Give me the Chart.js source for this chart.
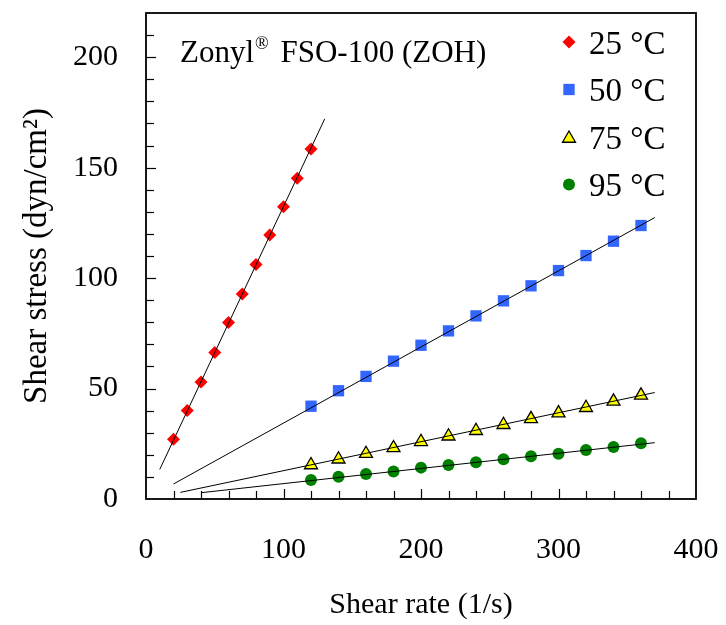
<!DOCTYPE html>
<html>
<head>
<meta charset="utf-8">
<script src="https://cdn.jsdelivr.net/npm/chart.js@4.4.1/dist/chart.umd.min.js"></script>
<style>
  body { margin: 0; background: #fff; }
  #wrap { width: 726px; height: 625px; }
</style>
</head>
<body>
<div id="wrap"><canvas id="chart" width="726" height="625"></canvas></div>
<script>
// 25 °C was measured at low shear rates only
const rate25 = [20, 30, 40, 50, 60, 70, 80, 90, 100, 110, 120];
const stress25 = [27.0, 40.1, 53.0, 66.3, 79.9, 92.8, 106.1, 119.5, 132.3, 145.2, 158.4];

// the other temperatures share the same shear rates
const rateHot = [120, 140, 160, 180, 200, 220, 240, 260, 280, 300, 320, 340, 360];
const stress50 = [42.0, 49.0, 55.5, 62.4, 69.6, 76.1, 82.9, 89.7, 96.5, 103.4, 110.2, 116.7, 123.8];
const stress75 = [15.4, 18.0, 20.5, 23.1, 25.9, 28.4, 30.9, 33.6, 36.3, 38.9, 41.3, 44.2, 46.9];
const stress95 = [8.6, 10.1, 11.3, 12.5, 14.2, 15.4, 16.6, 18.0, 19.3, 20.5, 22.2, 23.5, 25.2];

// linear fits, start and end points
const fitX25 = [10, 130];
const fitY25 = [13.4, 172.1];
const fitX50 = [20, 370];
const fitY50 = [6.8, 127.4];
const fitX75 = [25, 370];
const fitY75 = [3.0, 48.2];
const fitX95 = [40, 370];
const fitY95 = [2.85, 25.5];

const seriesLabels = ['25 °C', '50 °C', '75 °C', '95 °C'];
const xTickLabels = [0, 100, 200, 300, 400];
const yTickLabels = [0, 50, 100, 150, 200];

const serif = "'Liberation Serif', 'Times New Roman', serif";

function pts(xs, ys) {
  return xs.map((x, i) => ({ x: x, y: ys[i] }));
}

function fitLine(xs, ys) {
  return {
    type: 'line',
    data: pts(xs, ys),
    borderColor: '#000',
    borderWidth: 1,
    pointRadius: 0,
    fill: false,
    order: 0
  };
}

const markerStyles = [
  { pointStyle: 'rectRot', radius: 6.5, backgroundColor: '#FF0000', borderColor: '#FF0000', borderWidth: 0 },
  { pointStyle: 'rect', radius: 8, backgroundColor: '#3366FF', borderColor: '#3366FF', borderWidth: 0 },
  { pointStyle: 'triangle', radius: 7.5, backgroundColor: '#FFFF00', borderColor: '#000', borderWidth: 1.3 },
  { pointStyle: 'circle', radius: 6, backgroundColor: '#008000', borderColor: '#008000', borderWidth: 0 }
];

function markers(idx, xs, ys) {
  const m = markerStyles[idx];
  return {
    type: 'scatter',
    label: seriesLabels[idx],
    data: pts(xs, ys),
    pointStyle: m.pointStyle,
    pointRadius: m.radius,
    pointHoverRadius: m.radius,
    pointBackgroundColor: m.backgroundColor,
    pointBorderColor: m.borderColor,
    pointBorderWidth: m.borderWidth,
    showLine: false,
    order: 1
  };
}

// box around the plot, with inward ticks
const frameTicks = {
  id: 'frameTicks',
  afterDatasetsDraw(chart) {
    const ctx = chart.ctx;
    const a = chart.chartArea;
    const xs = chart.scales.x;
    const ys = chart.scales.y;
    ctx.save();
    ctx.strokeStyle = '#000';
    ctx.lineWidth = 1.2;
    for (let v = 20; v < 400; v += 20) {
      const px = Math.round(xs.getPixelForValue(v)) + 0.5;
      const len = v % 100 === 0 ? 10 : 8;
      ctx.beginPath();
      ctx.moveTo(px, a.bottom);
      ctx.lineTo(px, a.bottom - len);
      ctx.stroke();
    }
    for (let v = 10; v < 220; v += 10) {
      const py = Math.round(ys.getPixelForValue(v)) + 0.5;
      const len = v % 50 === 0 ? 10 : 8;
      ctx.beginPath();
      ctx.moveTo(a.left, py);
      ctx.lineTo(a.left + len, py);
      ctx.stroke();
    }
    ctx.lineWidth = 1.8;
    ctx.strokeRect(a.left, a.top, a.right - a.left, a.bottom - a.top);
    ctx.restore();
  }
};

// sample name and the legend inside the plot
const annotations = {
  id: 'annotations',
  afterDraw(chart) {
    const ctx = chart.ctx;
    ctx.save();
    ctx.fillStyle = '#000';
    ctx.textBaseline = 'alphabetic';
    ctx.textAlign = 'left';
    let x = 180;
    const base = 62;
    ctx.font = '31px ' + serif;
    ctx.fillText('Zonyl', x, base);
    x += ctx.measureText('Zonyl').width + 1;
    ctx.font = '18px ' + serif;
    ctx.fillText('®', x, base - 13);
    x += ctx.measureText('®').width + 4;
    ctx.font = '31px ' + serif;
    ctx.fillText(' FSO-100 (ZOH)', x, base);

    ctx.font = '33px ' + serif;
    seriesLabels.forEach((lab, i) => {
      const m = markerStyles[i];
      const y = 42 + i * 47.5;
      ctx.fillStyle = m.backgroundColor;
      ctx.strokeStyle = m.borderColor;
      ctx.lineWidth = m.borderWidth;
      Chart.helpers.drawPoint(ctx, {
        pointStyle: m.pointStyle,
        radius: m.radius,
        rotation: 0,
        borderWidth: m.borderWidth
      }, 569, y + (m.pointStyle === 'triangle' ? 1.5 : 0));
      ctx.fillStyle = '#000';
      ctx.fillText(lab, 589, y + 11.5);
    });
    ctx.restore();
  }
};

// fixed axis sizes so the plot box lands where it does in the figure
function fixX(s) {
  s.height = 126;
  s.paddingLeft = 0;
  s.paddingRight = 0;
}
function fixY(s) {
  s.width = 146;
  s.paddingTop = 0;
  s.paddingBottom = 0;
}

new Chart(document.getElementById('chart'), {
  type: 'scatter',
  data: {
    datasets: [
      fitLine(fitX25, fitY25),
      fitLine(fitX50, fitY50),
      fitLine(fitX75, fitY75),
      fitLine(fitX95, fitY95),
      markers(0, rate25, stress25),
      markers(1, rateHot, stress50),
      markers(2, rateHot, stress75),
      markers(3, rateHot, stress95)
    ]
  },
  options: {
    responsive: false,
    animation: false,
    layout: { padding: { top: 13, right: 30, left: 0, bottom: 0 } },
    plugins: {
      legend: { display: false },
      tooltip: { enabled: false }
    },
    scales: {
      x: {
        type: 'linear',
        min: 0,
        max: 400,
        grid: { display: false, drawTicks: false },
        border: { display: false },
        afterBuildTicks: s => { s.ticks = xTickLabels.map(v => ({ value: v })); },
        afterFit: fixX,
        ticks: { color: '#000', padding: 33, maxRotation: 0, font: { family: serif, size: 30 } },
        title: {
          display: true,
          text: 'Shear rate (1/s)',
          color: '#000',
          font: { family: serif, size: 30 },
          padding: { top: 0, bottom: 2 }
        }
      },
      y: {
        type: 'linear',
        min: 0,
        max: 220,
        grid: { display: false, drawTicks: false },
        border: { display: false },
        afterBuildTicks: s => { s.ticks = yTickLabels.map(v => ({ value: v })); },
        afterFit: fixY,
        ticks: { color: '#000', padding: 28, font: { family: serif, size: 30 } },
        title: {
          display: true,
          text: 'Shear stress (dyn/cm²)',
          color: '#000',
          font: { family: serif, size: 33 },
          padding: { top: 18, bottom: 0 }
        }
      }
    }
  },
  plugins: [frameTicks, annotations]
});
</script>
</body>
</html>
